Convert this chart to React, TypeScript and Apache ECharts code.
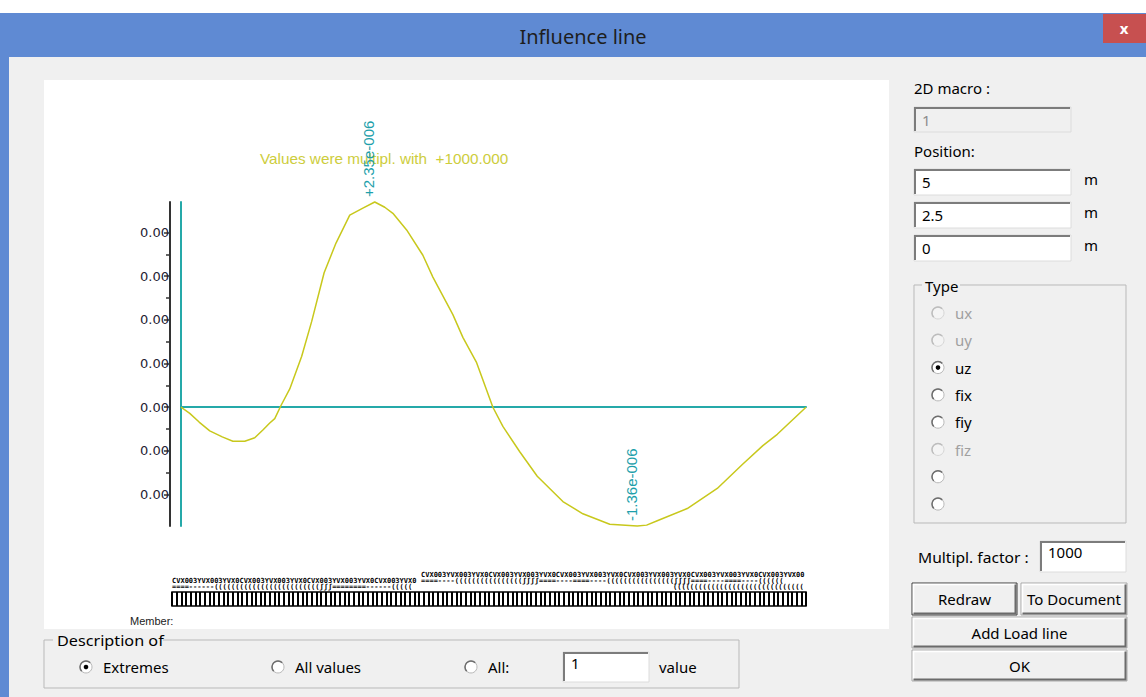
import React, { useEffect, useRef } from "react";
import * as echarts from "echarts";

// ---- data (positions along member in m, influence values in 1e-6) ----
const memberPositions = [
  0, 0.14, 0.29, 0.46, 0.66, 0.83, 1.02, 1.18, 1.31, 1.42, 1.5, 1.6, 1.74, 1.93, 2.09, 2.29,
  2.48, 2.7, 2.91, 3.1, 3.26, 3.39, 3.61, 3.87, 4.03, 4.35, 4.51, 4.73, 4.99, 5.15,
  5.42, 5.7, 6.11, 6.43, 6.86, 7.3, 7.45, 7.62, 8.1, 8.58, 8.99, 9.31, 9.54, 10,
];
const influenceValues = [
  0, -0.07, -0.17, -0.27, -0.34, -0.39, -0.39, -0.35, -0.26, -0.18, -0.13, 0.02, 0.21, 0.58,
  0.98, 1.54, 1.88, 2.2, 2.28, 2.35, 2.29, 2.22, 2.03, 1.74, 1.49, 1.06, 0.8, 0.51, 0,
  -0.22, -0.51, -0.79, -1.08, -1.22, -1.34, -1.36, -1.35, -1.3, -1.16, -0.93, -0.65, -0.44,
  -0.31, 0,
];
const valueUnit = 1e-6;
const multiplFactor = 1000;
const yMajorTicks = [-1, -0.5, 0, 0.5, 1, 1.5, 2];
const yMinorTicks = [-0.75, -0.25, 0.25, 0.75, 1.25, 1.75];
const yMin = -1.36;
const yMax = 2.35;
const xMin = 0;
const xMax = 10;
const memberCount = 136;

const macroNumber = "1";
const positionValues = ["5", "2.5", "0"];
const typeOptions = [
  { label: "ux", enabled: false, checked: false },
  { label: "uy", enabled: false, checked: false },
  { label: "uz", enabled: true, checked: true },
  { label: "fix", enabled: true, checked: false },
  { label: "fiy", enabled: true, checked: false },
  { label: "fiz", enabled: false, checked: false },
  { label: "", enabled: true, checked: false },
  { label: "", enabled: true, checked: false },
];
const descriptionOptions = [
  { label: "Extremes", checked: true },
  { label: "All values", checked: false },
  { label: "All:", checked: false },
];

const UI_FONT = '"Noto Sans", "Open Sans", sans-serif';
const ARIAL = '"Liberation Sans", Arial, sans-serif';
const TEAL = "#25a9a9";
const CURVE = "#c8c81c";

const fmtAxis = (v: number) => {
  const r = Math.round(v * valueUnit * multiplFactor * 100) / 100;
  return (r === 0 ? 0 : r).toFixed(2);
};
const fmtExp = (v: number) => {
  const real = v * valueUnit;
  const [m, e] = real.toExponential(2).split("e");
  const n = parseInt(e, 10);
  const exp = (n < 0 ? "-" : "+") + String(Math.abs(n)).padStart(3, "0");
  return (real >= 0 ? "+" : "") + m + "e" + exp;
};

const txt = (x: number, y: number, text: string, o: any = {}) => ({
  type: "text",
  x,
  y,
  z: o.z ?? 5,
  silent: true,
  rotation: o.rotation ?? 0,
  scaleX: o.scaleX ?? 1,
  style: {
    text,
    fill: o.fill ?? "#000",
    font: o.font ?? `15px ${UI_FONT}`,
    textAlign: o.align ?? "left",
    textVerticalAlign: o.valign ?? "middle",
    ...(o.lineHeight ? { lineHeight: o.lineHeight } : {}),
    ...(o.width ? { width: o.width, overflow: "truncate", ellipsis: "" } : {}),
  },
});
const rect = (x: number, y: number, w: number, h: number, fill: string, stroke?: string, lw = 1, z = -5) => ({
  type: "rect",
  z,
  silent: true,
  shape: { x, y, width: w, height: h },
  style: { fill, stroke: stroke ?? null, lineWidth: lw },
});
const poly = (pts: number[][], stroke: string, lw = 1, z = -4) => ({
  type: "polyline",
  z,
  silent: true,
  shape: { points: pts },
  style: { stroke, lineWidth: lw, fill: null },
});

const editBox = (x: number, y: number, w: number, h: number, value: string, disabled = false, valign = "middle") => [
  rect(x, y, w, h, disabled ? "#f0f0f0" : "#ffffff", "#dcdcdc", 1, -4),
  poly([[x + 1, y + h - 1], [x + 1, y + 1], [x + w - 1, y + 1]], "#7c7c7c", 2, -3),
  txt(x + 8, valign === "top" ? y + 11 : y + h / 2, value, { fill: disabled ? "#8c8c8c" : "#000" }),
];

const button = (x: number, y: number, w: number, h: number, label: string, isDefault = false) => [
  rect(x, y, w, h, "#f0f0f0", isDefault ? "#3c3c3c" : "#a9a9a9", 1, -4),
  poly([[x + 1.5, y + h - 2], [x + 1.5, y + 1.5], [x + w - 2, y + 1.5]], "#ffffff", 1.5, -3),
  poly([[x + 1.5, y + h - 1.5], [x + w - 1.5, y + h - 1.5], [x + w - 1.5, y + 1.5]], "#6b6b6b", 2, -3),
  txt(x + w / 2, y + h / 2, label, { align: "center" }),
];

const radio = (cx: number, cy: number, checked: boolean, enabled: boolean) => {
  const els: any[] = [
    { type: "circle", z: -3, silent: true, shape: { cx, cy, r: 6 }, style: { fill: enabled ? "#ffffff" : "#f4f4f4", stroke: enabled ? "#b8b8b8" : "#d6d6d6", lineWidth: 1 } },
    { type: "arc", z: -2, silent: true, shape: { cx, cy, r: 6, startAngle: Math.PI * 0.75, endAngle: Math.PI * 1.75 }, style: { stroke: enabled ? "#6e6e6e" : "#bdbdbd", lineWidth: 1.5, fill: null } },
  ];
  if (checked) els.push({ type: "circle", z: -1, silent: true, shape: { cx, cy, r: 2.3 }, style: { fill: "#000" } });
  return els;
};

function buildGraphics(extra: any[]) {
  const g: any[] = [];
  // window chrome
  g.push(rect(0, 13, 1146, 684, "#5f8ad3", undefined, 0, -10));
  g.push(rect(9, 57, 1137, 640, "#f0f0f0", undefined, 0, -9));
  g.push(rect(1103, 14, 43, 29, "#c75050", undefined, 0, -8));
  g.push(txt(1124, 28, "x", { align: "center", fill: "#fff", font: `bold 15px ${UI_FONT}` }));
  g.push(txt(583, 36, "Influence line", { align: "center", fill: "#1e1e1e", font: `20px ${UI_FONT}` }));
  // plot area
  g.push(rect(44, 80, 845, 549, "#ffffff", undefined, 0, -8));
  g.push(txt(260, 159, `Values were multipl. with  +${multiplFactor.toFixed(3)}`, { fill: "#cdcd3c", font: `15px ${ARIAL}`, scaleX: 1.02 }));
  // member label rows (dense overlapping member numbers)
  const rowA = "CVX003YVX003YVX0".repeat(16);
  const rowB = "====----((((((((((((((((ʃʃʃʃ====----".repeat(7);
  const rowC = "====------(((((((((((((((((((((((((ʃʃʃ====".repeat(5);
  const rowFont = `bold 7px "DejaVu Sans Mono", monospace`;
  const rowOpt = { font: rowFont, lineHeight: 6 };
  g.push(txt(421, 575, rowA, { ...rowOpt, width: 385 }));
  g.push(txt(172, 581, rowA, { ...rowOpt, width: 249 }));
  g.push(txt(421, 581, rowB, { ...rowOpt, width: 385 }));
  g.push(txt(172, 587, rowC, { ...rowOpt, width: 249 }));
  g.push(txt(673, 587, "(".repeat(40), { ...rowOpt, width: 133 }));
  g.push(txt(130, 621, "Member:", { font: `11px ${ARIAL}`, fill: "#222" }));

  // right panel
  g.push(txt(914, 88, "2D macro :"));
  g.push(...editBox(914, 107, 157, 25, macroNumber, true));
  g.push(txt(914, 151, "Position:"));
  const boxYs = [169, 202, 235];
  positionValues.forEach((v, i) => {
    g.push(...editBox(914, boxYs[i], 157, 26, v));
    g.push(txt(1084, boxYs[i] + 10, "m"));
  });
  // Type group
  g.push(rect(914, 285, 212, 238, "none", "#b9b9b9", 1, -6));
  g.push(rect(922, 278, 38, 15, "#f0f0f0", undefined, 0, -5));
  g.push(txt(925, 286, "Type"));
  typeOptions.forEach((o, i) => {
    const cy = 313 + i * 27.3;
    g.push(...radio(938, cy, o.checked, o.enabled));
    if (o.label) g.push(txt(955, cy, o.label, { fill: o.enabled ? "#000" : "#a0a0a0" }));
  });
  g.push(txt(918, 557, "Multipl. factor :", { scaleX: 1.04 }));
  g.push(...editBox(1040, 541, 86, 31, String(multiplFactor), false, "top"));
  g.push(...button(912, 583, 105, 32, "Redraw", true));
  g.push(...button(1021, 583, 106, 32, "To Document"));
  g.push(...button(912, 617, 215, 31, "Add Load line"));
  g.push(...button(912, 650, 215, 31, "OK"));

  // Description group
  g.push(rect(44, 640, 695, 48, "none", "#b9b9b9", 1, -6));
  g.push(rect(53, 632, 110, 16, "#f0f0f0", undefined, 0, -5));
  g.push(txt(57, 640, "Description of", { scaleX: 1.08 }));
  const rx = [86, 278, 471];
  descriptionOptions.forEach((o, i) => {
    g.push(...radio(rx[i], 667, o.checked, true));
    g.push(txt(rx[i] + 17, 667, o.label));
  });
  g.push(...editBox(563, 652, 86, 30, "1", false, "top"));
  g.push(txt(659, 667, "value"));
  return g.concat(extra);
}

function buildOption(extra: any[]) {
  const data = memberPositions.map((x, i) => [x, influenceValues[i]]);
  return {
    animation: false,
    backgroundColor: "#ffffff",
    graphic: { elements: buildGraphics(extra) },
    grid: [
      { left: 181, right: 340, top: 202, bottom: 171, show: false },
      { left: 172, top: 592, width: 634, height: 14, show: true, backgroundColor: "#ffffff", borderColor: "#000", borderWidth: 1.5 },
    ],
    xAxis: [
      {
        type: "value", gridIndex: 0, min: xMin, max: xMax,
        axisLine: { show: true, onZero: true, lineStyle: { color: TEAL, width: 2 } },
        axisTick: { show: false }, axisLabel: { show: false }, splitLine: { show: false },
      },
      {
        type: "value", gridIndex: 1, min: 0, max: memberCount, interval: 1,
        axisLine: { show: false }, axisTick: { show: false }, axisLabel: { show: false },
        splitLine: { show: true, lineStyle: { color: "#000", width: 2 } },
      },
    ],
    yAxis: [
      {
        type: "value", gridIndex: 0, min: yMin, max: yMax, position: "left", offset: 11,
        axisLine: { show: true, onZero: false, lineStyle: { color: "#333333", width: 2 } },
        axisTick: { show: true, customValues: yMajorTicks, length: 6, lineStyle: { color: "#333333", width: 1.5 } },
        axisLabel: { show: true, customValues: yMajorTicks, formatter: fmtAxis, margin: 1, color: "#1f2233", fontSize: 13, fontFamily: '"DejaVu Sans", sans-serif' },
        splitLine: { show: false },
      },
      {
        type: "value", gridIndex: 0, min: yMin, max: yMax, position: "left", offset: 11,
        axisLine: { show: false, onZero: false },
        axisTick: { show: true, customValues: yMinorTicks, length: 4, lineStyle: { color: "#333333", width: 1.5 } },
        axisLabel: { show: false }, splitLine: { show: false },
      },
      {
        type: "value", gridIndex: 0, min: yMin, max: yMax, position: "left", offset: 0,
        axisLine: { show: true, onZero: false, lineStyle: { color: TEAL, width: 2 } },
        axisTick: { show: false }, axisLabel: { show: false }, splitLine: { show: false },
      },
      { type: "value", gridIndex: 1, min: 0, max: 1, show: false },
    ],
    series: [
      {
        type: "line", xAxisIndex: 0, yAxisIndex: 0, data, symbol: "none", clip: false,
        lineStyle: { color: CURVE, width: 1.5 }, z: 3,
      },
    ],
  };
}

export default function App() {
  const ref = useRef<HTMLDivElement>(null);
  useEffect(() => {
    if (!ref.current) return;
    const chart = echarts.init(ref.current, undefined, { renderer: "svg" });
    chart.setOption(buildOption([]));
    let iMax = 0;
    let iMin = 0;
    influenceValues.forEach((v, i) => {
      if (v > influenceValues[iMax]) iMax = i;
      if (v < influenceValues[iMin]) iMin = i;
    });
    const labels: any[] = [];
    [iMax, iMin].forEach((idx) => {
      const p = chart.convertToPixel({ seriesIndex: 0 }, [memberPositions[idx], influenceValues[idx]]) as number[];
      labels.push(
        txt(p[0] - 6, p[1] - 5, fmtExp(influenceValues[idx]), {
          rotation: Math.PI / 2, fill: "#1e9fab", font: `15px ${ARIAL}`, align: "left", valign: "middle", z: 6,
        })
      );
    });
    chart.setOption(buildOption(labels), true);
    return () => chart.dispose();
  }, []);
  return <div ref={ref} style={{ position: "fixed", left: 0, top: 0, width: 1146, height: 697 }} />;
}
